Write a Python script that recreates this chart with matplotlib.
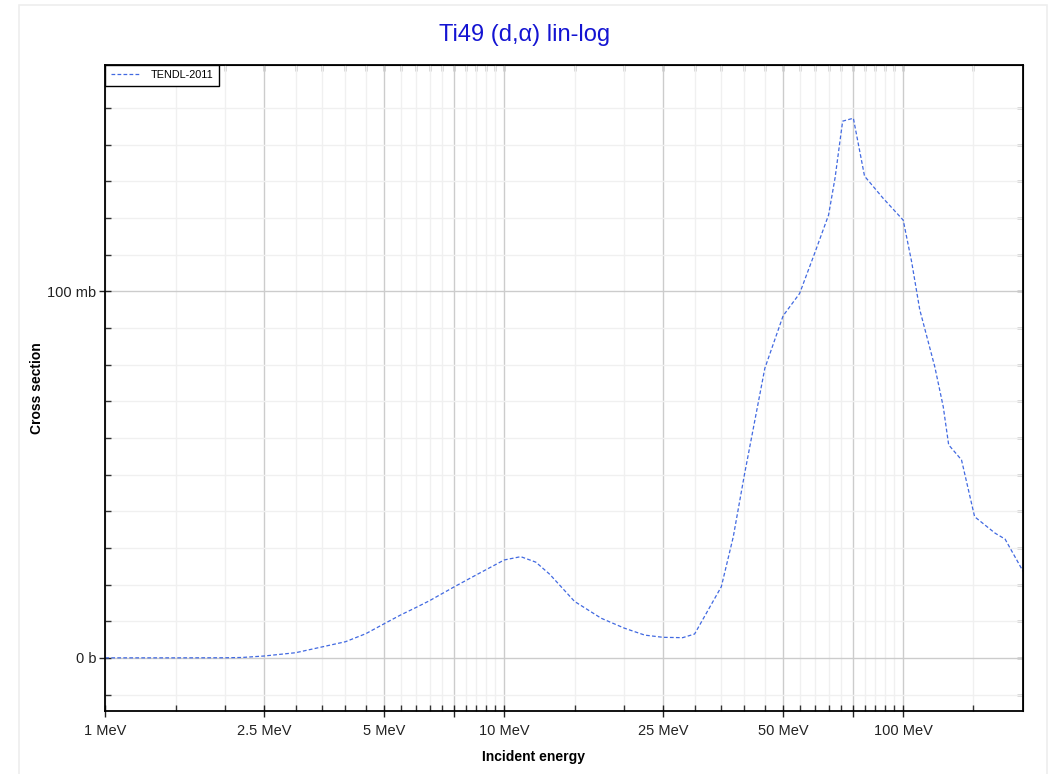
import numpy as np
import matplotlib
matplotlib.use('Agg')
import matplotlib.pyplot as plt
from matplotlib.patches import Rectangle

# TENDL-2011 Ti49(d,a) cross section (MeV, mb)
energy = [1.0, 1.5, 2.0, 2.2, 2.5, 3.0, 3.5, 4.0, 4.5, 5.0, 5.5, 6.0, 6.5, 7.5, 8.5,
          10.0, 11.0, 12.0, 13.0, 15.0, 17.5, 20.0, 22.5, 25.0, 28.0, 30.0, 35.0,
          37.5, 40.0, 45.0, 50.0, 55.0, 60.0, 65.0, 67.5, 70.5, 75.0, 80.0, 89.0,
          100.0, 105.0, 110.0, 120.0, 126.0, 130.0, 140.0, 151.0, 170.0, 180.0, 200.0]
xs = [0.0, 0.0, 0.02, 0.1, 0.5, 1.4, 3.0, 4.4, 6.6, 9.3, 11.7, 13.7, 15.6, 19.4, 22.6,
      26.7, 27.6, 26.1, 22.8, 15.4, 10.8, 8.1, 6.2, 5.6, 5.5, 6.5, 19.4,
      33.0, 50.0, 79.0, 93.3, 99.4, 110.4, 120.8, 131.0, 146.4, 147.2, 131.4, 125.4,
      119.4, 108.0, 95.0, 79.4, 68.5, 58.1, 54.0, 38.5, 34.0, 32.4, 23.5]

major_x = [1, 2.5, 5, 7.5, 10, 25, 50, 75, 100]
major_x_labels = ['1 MeV', '2.5 MeV', '5 MeV', '', '10 MeV', '25 MeV', '50 MeV', '', '100 MeV']
minor_x = [1.5, 2, 3, 3.5, 4, 4.5, 5.5, 6, 6.5, 7, 8, 8.5, 9, 9.5,
           15, 20, 30, 35, 40, 45, 55, 60, 65, 70, 80, 85, 90, 95, 150]
major_y = [0, 100]
major_y_labels = ['0 b', '100 mb']
minor_y = [-10, 10, 20, 30, 40, 50, 60, 70, 80, 90, 110, 120, 130, 140, 150]

plt.rcParams['font.family'] = ['Liberation Sans', 'DejaVu Sans']

fig = plt.figure(figsize=(10.49, 7.74), dpi=100)
fig.patches.append(Rectangle((19/1049, -0.01), 1028/1049, 1 - 5/774 + 0.01,
                             transform=fig.transFigure, fill=False,
                             edgecolor='#eeeeee', lw=1.2))
ax = fig.add_axes([105.3/1049, 1 - 711/774, 918/1049, (711 - 64.7)/774])

line, = ax.plot(energy, xs, color='#4169e1', lw=0.9, ls='--', label='TENDL-2011')
line.set_dashes((3, 1.8))

ax.set_xscale('log')
ax.set_xlim(1, 200)
ax.set_ylim(-14.5, 161.8)

ax.set_xticks(major_x)
ax.set_xticklabels(major_x_labels, fontsize=10.5)
ax.set_xticks(minor_x, minor=True)
ax.set_xticklabels([], minor=True)
ax.set_yticks(major_y)
ax.set_yticklabels(major_y_labels, fontsize=10.5)
ax.set_yticks(minor_y, minor=True)

ax.grid(which='major', color='#cccccc', lw=1)
ax.grid(which='minor', color='#f0f0f0', lw=1)
ax.set_axisbelow(True)

ax.tick_params(which='major', direction='inout', length=9, width=1, colors='#222222')
ax.tick_params(axis='x', which='major', pad=5)
ax.tick_params(axis='y', which='major', pad=2)
ax.tick_params(which='minor', direction='in', length=4.5, width=1, colors='#333333')

for s in ax.spines.values():
    s.set_linewidth(1.3)
    s.set_color('black')

# top and right ticks (inward only)
axt = ax.secondary_xaxis('top')
axt.set_xticks(major_x + minor_x)
axt.set_xticklabels([])
axt.xaxis.set_minor_locator(matplotlib.ticker.NullLocator())
axt.tick_params(direction='in', length=4.5, width=1, colors='#333333')
axr = ax.secondary_yaxis('right')
axr.set_yticks(major_y + minor_y)
axr.set_yticklabels([])
axr.tick_params(direction='in', length=4.5, width=1, colors='#333333')

leg = ax.legend(loc='upper left', bbox_to_anchor=(0, 1), borderaxespad=0,
                fancybox=False, framealpha=1, edgecolor='black', fontsize=7.8,
                handlelength=2.7, handletextpad=1.0, borderpad=0.5)
leg.get_frame().set_linewidth(1)

fig.text(0.5, 1 - 35/774, 'Ti49 (d,\u03b1) lin-log', ha='center', va='center',
         fontsize=17, color='#1414d2')
fig.text(533.7/1049, 1 - 757/774, 'Incident energy', ha='center', va='center',
         fontsize=10, fontweight='bold')
fig.text(37/1049, 1 - 388/774, 'Cross section', ha='center', va='center',
         rotation=90, fontsize=10, fontweight='bold')

fig.savefig('out.png', dpi=100)
